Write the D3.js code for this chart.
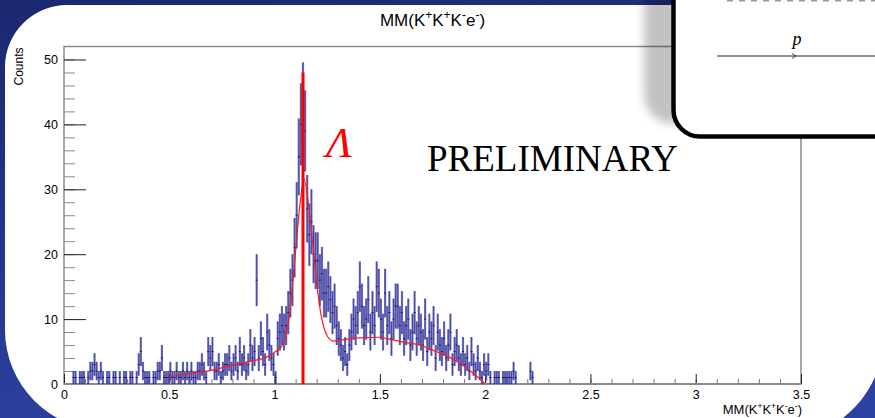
<!DOCTYPE html>
<html>
<head>
<meta charset="utf-8" />
<title>MM(K+K+K-e-)</title>
<script src="https://cdn.jsdelivr.net/npm/d3@7"></script>
<style>
    body { margin: 0; background: #222e78; overflow: hidden; }
    svg { display: block; }
    .sans { font-family: "Liberation Sans", Arial, Helvetica, sans-serif; }
    .serif { font-family: "Liberation Serif", "Times New Roman", Times, serif; }
</style>
</head>
<body>
<div id="chart"></div>
<script>
    // histogram: 0.01 wide bins starting at 0
    var binLow = 0;
    var binWidth = 0.01;
    var counts = [
        0, 0, 0, 0, 1, 1, 0, 1, 1, 1,
        0, 1, 2, 2, 3, 2, 1, 2, 1, 0,
        1, 1, 0, 1, 1, 0, 1, 0, 1, 1,
        0, 1, 1, 0, 1, 3, 5, 2, 1, 1,
        1, 0, 1, 1, 2, 2, 4, 1, 1, 1,
        2, 1, 1, 2, 1, 1, 2, 1, 2, 1,
        2, 1, 1, 2, 2, 3, 2, 1, 5, 4,
        5, 2, 2, 3, 1, 2, 3, 3, 4, 2,
        3, 4, 2, 5, 3, 4, 2, 3, 6, 4,
        5, 16, 4, 7, 5, 3, 8, 6, 4, 3,
        1, 7, 8, 9, 8, 9, 11, 14, 16, 21,
        26, 35, 40, 43, 39, 27, 23, 25, 20, 19,
        19, 16, 17, 14, 14, 15, 13, 11, 12, 9,
        7, 6, 4, 5, 3, 6, 8, 10, 9, 11,
        15, 12, 9, 10, 13, 8, 11, 9, 15, 14,
        10, 8, 14, 9, 11, 7, 10, 12, 12, 9,
        11, 7, 9, 10, 6, 8, 11, 7, 9, 8,
        6, 10, 5, 8, 7, 9, 4, 8, 6, 5,
        7, 4, 6, 8, 3, 5, 6, 4, 3, 5,
        3, 4, 2, 5, 3, 2, 4, 2, 1, 3,
        2, 3, 1, 0, 1, 1, 1, 0, 1, 1,
        1, 1, 1, 2, 1, 0, 0, 0, 0, 0,
        0, 2, 1
    ];

    // fit curve
    var fitX = [0.50, 0.60, 0.70, 0.80, 0.90, 0.96, 1.00, 1.03, 1.05, 1.07, 1.09, 1.10, 1.12, 1.14, 1.16, 1.18, 1.20, 1.22, 1.25, 1.28, 1.32, 1.40, 1.50, 1.56, 1.62, 1.70, 1.76, 1.80, 1.87, 1.95, 2.00];
    var fitY = [1.1, 1.6, 2.1, 2.9, 3.6, 4.1, 4.9, 5.6, 7.0, 10.5, 17.0, 20.5, 27.5, 31.5, 28.0, 22.0, 15.5, 10.8, 7.4, 6.6, 6.8, 7.1, 7.2, 6.8, 6.4, 5.9, 5.1, 4.6, 3.4, 1.5, 0.0];

    var lambdaMass = 1.135;
    var lambdaHeight = 48;

    var xTicks = [0, 0.5, 1, 1.5, 2, 2.5, 3, 3.5];
    var yTicks = [0, 10, 20, 30, 40, 50];

    var width = 875;
    var height = 418;
    var plot = { left: 64, right: 801, top: 46.5, bottom: 384 };

    var svg = d3.select("#chart")
        .append("svg")
        .attr("width", width)
        .attr("height", height);

    var defs = svg.append("defs");
    var grad = defs.append("linearGradient")
        .attr("id", "bg")
        .attr("x1", 0).attr("y1", 0).attr("x2", 0.3).attr("y2", 1);
    grad.append("stop").attr("offset", "0%").attr("stop-color", "#1b2770");
    grad.append("stop").attr("offset", "100%").attr("stop-color", "#2d41a0");

    var shadow = defs.append("filter")
        .attr("id", "shadow")
        .attr("x", "-20%").attr("y", "-40%").attr("width", "140%").attr("height", "180%");
    shadow.append("feDropShadow")
        .attr("dx", -27).attr("dy", -15)
        .attr("stdDeviation", 5)
        .attr("flood-color", "#000")
        .attr("flood-opacity", 0.24);

    // slide background + white panel
    svg.append("rect")
        .attr("width", width).attr("height", height)
        .attr("fill", "url(#bg)");

    svg.append("path")
        .attr("d", "M5,67 A62,62 0 0 1 67,5 H885 V330 A100,108 0 0 1 785,438 V430 H105 A100,100 0 0 1 5,330 Z")
        .attr("fill", "#fff");

    var x = d3.scaleLinear().domain([0, 3.5]).range([plot.left, plot.right]);
    var y = d3.scaleLinear().domain([0, 52]).range([plot.bottom, plot.top]);

    // frame
    svg.append("rect")
        .attr("x", plot.left).attr("y", plot.top)
        .attr("width", plot.right - plot.left)
        .attr("height", plot.bottom - plot.top)
        .attr("fill", "none")
        .attr("stroke", "#8a8a8a")
        .attr("stroke-width", 1.5);

    // y axis
    var yMinor = svg.append("g")
        .attr("transform", "translate(" + plot.left + ",0)")
        .call(d3.axisLeft(y).tickValues(d3.range(0, 52, 2)).tickSize(-11).tickFormat(""));
    yMinor.select(".domain").remove();
    yMinor.selectAll("line").attr("stroke", "#888");

    var yAxis = svg.append("g")
        .attr("transform", "translate(" + plot.left + ",0)")
        .call(d3.axisLeft(y).tickValues(yTicks).tickSize(-22).tickPadding(6));
    yAxis.select(".domain").remove();
    yAxis.selectAll("line").attr("stroke", "#222");
    yAxis.selectAll("text")
        .attr("class", "sans")
        .attr("font-size", "12.5px")
        .attr("fill", "#000");

    // x axis
    var xMinor = svg.append("g")
        .attr("transform", "translate(0," + plot.bottom + ")")
        .call(d3.axisBottom(x).tickValues(d3.range(0, 35).map(function (d) { return d / 10; })).tickSize(-5).tickFormat(""));
    xMinor.select(".domain").remove();
    xMinor.selectAll("line").attr("stroke", "#777");

    var xAxis = svg.append("g")
        .attr("transform", "translate(0," + plot.bottom + ")")
        .call(d3.axisBottom(x).tickValues(xTicks).tickSize(-10).tickPadding(6).tickFormat(function (d) { return String(d); }));
    xAxis.select(".domain").remove();
    xAxis.selectAll("line").attr("stroke", "#222");
    xAxis.selectAll("text")
        .attr("class", "sans")
        .attr("font-size", "12.5px")
        .attr("fill", "#000");

    svg.append("line")
        .attr("x1", plot.left).attr("x2", plot.right)
        .attr("y1", plot.bottom).attr("y2", plot.bottom)
        .attr("stroke", "#8a8a8a")
        .attr("stroke-width", 2);

    // histogram with errors
    var bins = counts.map(function (n, i) {
        return { lo: binLow + i * binWidth, hi: binLow + (i + 1) * binWidth, n: n };
    }).filter(function (d) { return d.n > 0; });

    var hist = svg.append("g");
    hist.selectAll(".err")
        .data(bins)
        .enter()
        .append("line")
        .attr("class", "err")
        .attr("x1", function (d) { return x((d.lo + d.hi) / 2); })
        .attr("x2", function (d) { return x((d.lo + d.hi) / 2); })
        .attr("y1", function (d) { return y(d.n - Math.sqrt(d.n)); })
        .attr("y2", function (d) { return y(d.n + Math.sqrt(d.n)); })
        .attr("stroke", "#3a3aa6")
        .attr("stroke-opacity", 0.68)
        .attr("stroke-width", 2.2);
    hist.selectAll(".core")
        .data(bins)
        .enter()
        .append("line")
        .attr("class", "core")
        .attr("x1", function (d) { return x((d.lo + d.hi) / 2); })
        .attr("x2", function (d) { return x((d.lo + d.hi) / 2); })
        .attr("y1", function (d) { return y(d.n - Math.sqrt(d.n)); })
        .attr("y2", function (d) { return y(d.n + Math.sqrt(d.n)); })
        .attr("stroke", "#16167e")
        .attr("stroke-opacity", 0.7)
        .attr("stroke-width", 0.7);
    hist.selectAll(".val")
        .data(bins)
        .enter()
        .append("line")
        .attr("class", "val")
        .attr("x1", function (d) { return x(d.lo); })
        .attr("x2", function (d) { return x(d.hi); })
        .attr("y1", function (d) { return y(d.n); })
        .attr("y2", function (d) { return y(d.n); })
        .attr("stroke", "#101070")
        .attr("stroke-width", 0.9);

    // fit
    var fitLine = d3.line()
        .x(function (d) { return x(d[0]); })
        .y(function (d) { return y(d[1]); })
        .curve(d3.curveMonotoneX);
    svg.append("path")
        .datum(d3.zip(fitX, fitY))
        .attr("d", fitLine)
        .attr("fill", "none")
        .attr("stroke", "#ff1a1a")
        .attr("stroke-width", 1.2);

    svg.append("line")
        .attr("x1", x(lambdaMass)).attr("x2", x(lambdaMass))
        .attr("y1", y(0)).attr("y2", y(lambdaHeight))
        .attr("stroke", "#ff0000")
        .attr("stroke-width", 3);

    // texts
    function kkke(sel, supSize) {
        var parts = [["MM(K", 0], ["+", 1], ["K", 0], ["+", 1], ["K", 0], ["-", 1], ["e", 0], ["-", 1], [")", 0]];
        parts.forEach(function (p) {
            var t = sel.append("tspan").text(p[0]);
            if (p[1]) t.attr("font-size", supSize).attr("baseline-shift", "super");
        });
    }

    var title = svg.append("text")
        .attr("class", "sans")
        .attr("x", x(1.75)).attr("y", 26)
        .attr("text-anchor", "middle")
        .attr("font-size", "17px")
        .attr("fill", "#000");
    kkke(title, "12px");

    var xTitle = svg.append("text")
        .attr("class", "sans")
        .attr("x", plot.right + 1).attr("y", 414)
        .attr("text-anchor", "end")
        .attr("font-size", "13px")
        .attr("fill", "#000");
    kkke(xTitle, "8.5px");

    svg.append("text")
        .attr("class", "sans")
        .attr("transform", "translate(23," + (plot.top + 1) + ") rotate(-90)")
        .attr("text-anchor", "end")
        .attr("font-size", "12px")
        .attr("fill", "#000")
        .text("Counts");

    svg.append("text")
        .attr("class", "serif")
        .attr("x", 326).attr("y", 157)
        .attr("font-style", "italic")
        .attr("font-size", "43px")
        .attr("fill", "#ff0000")
        .text("\u039B");

    svg.append("text")
        .attr("class", "serif")
        .attr("x", 427).attr("y", 171)
        .attr("font-size", "37px")
        .attr("fill", "#000")
        .text("PRELIMINARY");

    // overlay box in the corner
    var box = svg.append("g");
    box.append("path")
        .attr("d", "M673.5,-10 V110 A26.5,26.5 0 0 0 700,136.5 H890 V-10 Z")
        .attr("fill", "#fff")
        .attr("stroke", "#000")
        .attr("stroke-width", 4.5)
        .attr("filter", "url(#shadow)");
    box.append("line")
        .attr("x1", 727).attr("x2", 875)
        .attr("y1", 0.5).attr("y2", 0.5)
        .attr("stroke", "#999")
        .attr("stroke-width", 2)
        .attr("stroke-dasharray", "6,6");
    box.append("line")
        .attr("x1", 717).attr("x2", 880)
        .attr("y1", 56).attr("y2", 56)
        .attr("stroke", "#222")
        .attr("stroke-width", 1);
    box.append("path")
        .attr("d", "M792,53.5 L796,56 L792,58.5")
        .attr("fill", "none")
        .attr("stroke", "#222")
        .attr("stroke-width", 0.8);
    box.append("text")
        .attr("class", "serif")
        .attr("x", 797).attr("y", 45)
        .attr("text-anchor", "middle")
        .attr("font-style", "italic")
        .attr("font-size", "18px")
        .attr("fill", "#000")
        .text("p");
</script>
</body>
</html>
